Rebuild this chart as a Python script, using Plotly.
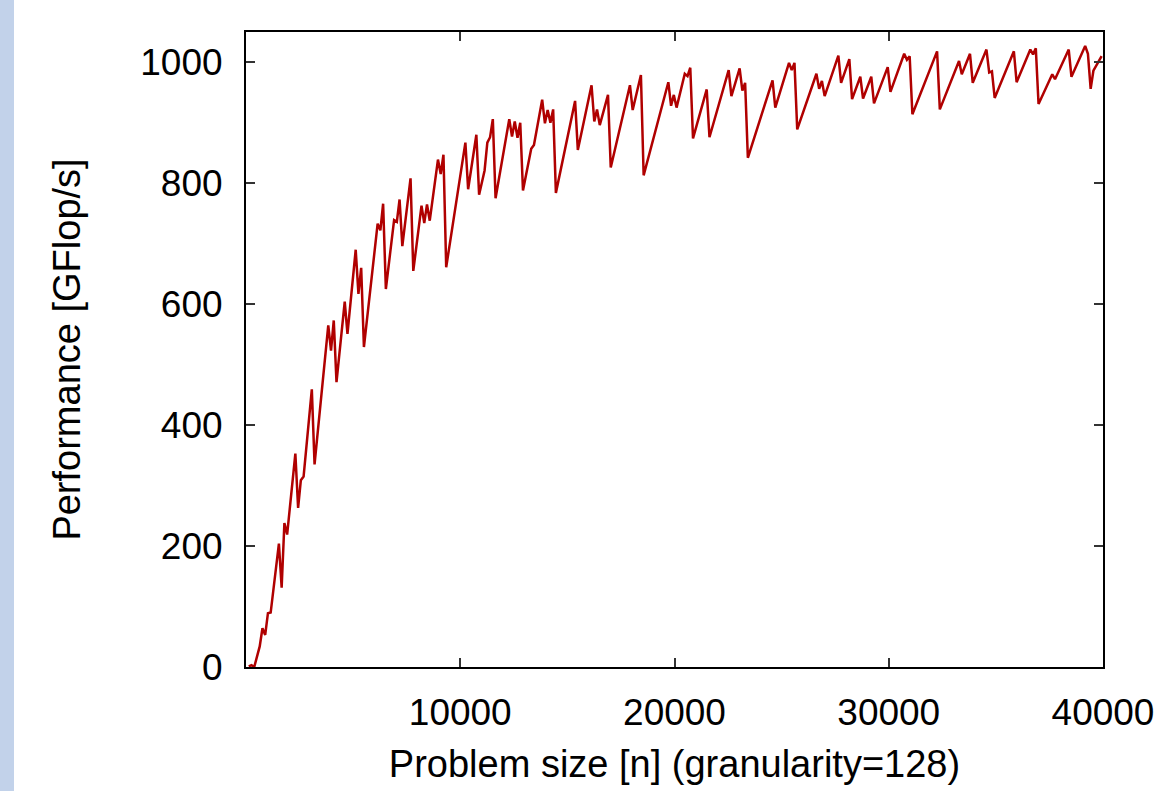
import plotly.graph_objects as go

# Problem size n (granularity 128) and measured performance (GFlop/s)
problem_size = [
    128, 256, 384, 640, 768, 896, 1024, 1152, 1536, 1664, 1792, 1920,
    2304, 2432, 2560, 2688, 3072, 3200, 3840, 3968, 4096, 4224, 4608, 4736,
    5120, 5248, 5376, 5504, 6144, 6272, 6400, 6528, 6912, 7040, 7168, 7296,
    7680, 7808, 8192, 8320, 8448, 8576, 8960, 9088, 9216, 9344,
    10240, 10368, 10752, 10880, 11136, 11264, 11392, 11520, 11648,
    12288, 12416, 12544, 12672, 12800, 12928, 13312, 13440, 13824, 13952,
    14080, 14208, 14336, 14464, 15360, 15488, 16128, 16256, 16384, 16512,
    16896, 17024, 17920, 18048, 18432, 18560, 19712, 19840, 19968, 20096,
    20480, 20608, 20736, 20864, 21504, 21632, 22528, 22656, 23040, 23168,
    23296, 23424, 24576, 24704, 25344, 25472, 25600, 25728, 26624, 26752,
    26880, 27008, 27648, 27776, 28160, 28288, 28672, 28800, 29184, 29312,
    29952, 30080, 30720, 30848, 30976, 31104, 32256, 32384, 33280, 33408,
    33792, 33920, 34560, 34688, 34816, 34944, 35840, 35968, 36608, 36736,
    36864, 36992, 37632, 37760, 38400, 38528, 39168, 39296, 39424, 39552,
    39936,
]
gflops = [
    1, 3, 0, 34, 64, 53, 89, 90, 204, 131, 238, 219,
    353, 263, 309, 315, 459, 335, 565, 523, 573, 471, 604, 551,
    690, 617, 660, 529, 733, 722, 766, 625, 739, 736, 773, 696,
    808, 655, 763, 734, 765, 738, 839, 815, 847, 661,
    867, 790, 880, 781, 821, 867, 876, 906, 775,
    906, 877, 902, 875, 900, 788, 857, 863, 938, 899,
    921, 900, 922, 784, 936, 855, 962, 902, 922, 896,
    946, 826, 962, 921, 979, 813, 967, 928, 946, 925,
    981, 977, 991, 874, 955, 876, 987, 944, 990, 953,
    966, 842, 970, 925, 999, 987, 999, 889, 981, 956,
    969, 944, 1011, 966, 1005, 939, 976, 940, 976, 932,
    992, 951, 1014, 1004, 1010, 914, 1018, 922, 1002, 980,
    1014, 966, 1021, 983, 985, 941, 1018, 967, 1021, 1013,
    1023, 931, 980, 972, 1021, 976, 1027, 1014, 956, 986,
    1010,
]

x_ticks = [10000, 20000, 30000, 40000]
y_ticks = [0, 200, 400, 600, 800, 1000]

FONT = "Liberation Sans, Arial, sans-serif"

fig = go.Figure()
fig.add_trace(go.Scatter(
    x=problem_size, y=gflops, mode="lines",
    line=dict(color="#b00000", width=2.5),
    showlegend=False,
))

axis_common = dict(
    showline=True, linecolor="black", linewidth=2, mirror="ticks",
    ticks="inside", ticklen=9, tickwidth=1.5, tickcolor="#333333",
    showgrid=False, zeroline=False,
    tickfont=dict(family=FONT, size=37, color="black"),
)

fig.update_layout(
    width=1161, height=791,
    margin=dict(l=246, r=58, t=32, b=124, autoexpand=False),
    paper_bgcolor="white", plot_bgcolor="white",
    font=dict(family=FONT, size=37, color="black"),
    xaxis=dict(
        range=[0, 40000], tickvals=x_ticks,
        ticktext=[str(v) for v in x_ticks],
        title=dict(text="Problem size [n] (granularity=128)",
                   font=dict(family=FONT, size=38), standoff=18),
        ticklabelstandoff=12,
        **axis_common,
    ),
    yaxis=dict(
        range=[0, 1050], tickvals=y_ticks,
        ticktext=[str(v) for v in y_ticks],
        title=dict(text="Performance [GFlop/s]",
                   font=dict(family=FONT, size=38), standoff=48),
        ticklabelstandoff=14,
        **axis_common,
    ),
    shapes=[dict(
        type="rect", xref="paper", yref="paper",
        x0=-0.30, x1=(14 - 246) / 857, y0=-0.3, y1=1.2,
        fillcolor="#c2d2ea", line=dict(width=0), layer="below",
    )],
)

fig.write_html(
    "out.html",
    config={"displayModeBar": False},
    post_script="document.body.style.margin='0';document.body.style.overflow='hidden';",
)
